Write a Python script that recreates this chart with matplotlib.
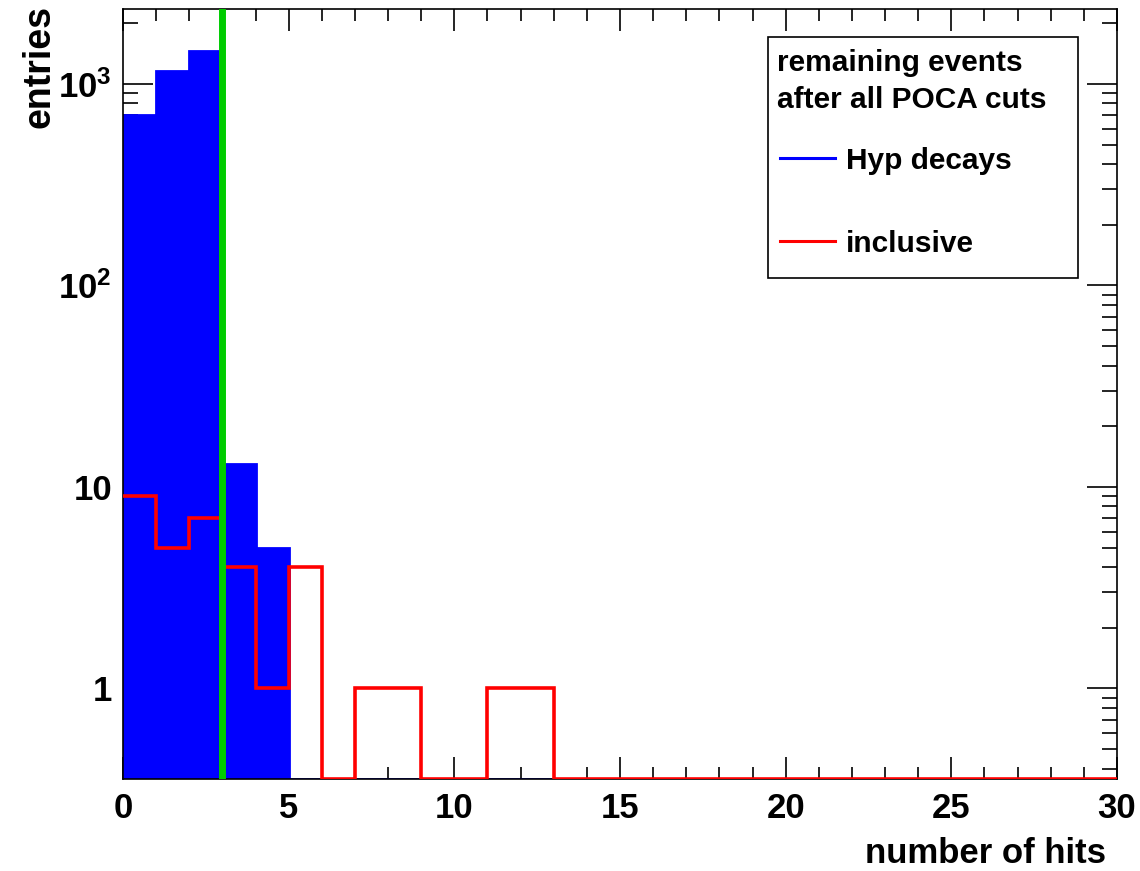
import numpy as np
import matplotlib
matplotlib.use("Agg")
from matplotlib import pyplot as plt
from matplotlib.patches import Rectangle
from matplotlib.lines import Line2D
from matplotlib.ticker import FixedLocator, FixedFormatter, MultipleLocator

plt.rcParams['font.family'] = ['Liberation Sans', 'DejaVu Sans']
plt.rcParams['font.weight'] = 'bold'
plt.rcParams['mathtext.fontset'] = 'custom'
plt.rcParams['mathtext.rm'] = 'Liberation Sans:bold'
plt.rcParams['mathtext.default'] = 'rm'

# number of hits histogram, 30 bins of width 1
edges = np.arange(0, 31)
hyp = np.array([703, 1161, 1449, 13, 5] + [0] * 25, dtype=float)
incl = np.array([9, 5, 7, 4, 1, 4, 0, 1, 1, 0, 0, 1, 1] + [0] * 17, dtype=float)
cut_x = 3
ymin, ymax = 0.355, 2354

ytick_vals = [1, 10, 100, 1000]
ytick_labels = ['1', '10', r'$10^{2}$', r'$10^{3}$']

fig = plt.figure(figsize=(11.4, 8.71), dpi=100)
ax = fig.add_axes([0.1079, 0.1056, 0.8719, 0.8841])
ax.set_yscale('log')
ax.set_xlim(0, 30)
ax.set_ylim(ymin, ymax)

# empty bins sit on the bottom of the frame, like ROOT draws them
hyp_d = np.where(hyp > 0, hyp, ymin)
incl_d = np.where(incl > 0, incl, ymin)

ax.stairs(hyp_d, edges, baseline=ymin, fill=True, color='#0000ff', zorder=2)
ax.stairs(hyp_d, edges, baseline=None, color='#0000ff', lw=2, zorder=2)
ax.stairs(incl_d, edges, baseline=None, color='#ff0000', lw=2.6, zorder=3)
ax.axvline(cut_x, color='#00cc00', lw=5, zorder=4)

ax.yaxis.set_major_locator(FixedLocator(ytick_vals))
ax.yaxis.set_major_formatter(FixedFormatter(ytick_labels))
minors = [m * 10.0 ** d for d in range(-1, 4) for m in range(2, 10)]
ax.yaxis.set_minor_locator(FixedLocator(minors))
ax.yaxis.set_minor_formatter(FixedFormatter([''] * len(minors)))
ax.xaxis.set_major_locator(MultipleLocator(5))
ax.xaxis.set_minor_locator(MultipleLocator(1))

ax.tick_params(axis='both', which='both', direction='in', top=True, right=True, width=1.2, colors='black')
ax.tick_params(axis='y', which='major', length=21.5, labelsize=25, pad=8)
ax.tick_params(axis='y', which='minor', length=10.8)
ax.tick_params(axis='x', which='major', length=16, labelsize=25, pad=9)
ax.tick_params(axis='x', which='minor', length=8.6)
for s in ax.spines.values():
    s.set_linewidth(1.2)

fig.text(0.9705, 0.0095, 'number of hits', ha='right', va='baseline', fontsize=25, fontweight='bold')
fig.text(0.019, 0.994, 'entries', ha='left', va='top', rotation=90, fontsize=27, fontweight='bold')

# legend box
lx0, ly0, lx1, ly1 = 768 / 1140, 1 - 278 / 871, 1078 / 1140, 1 - 37 / 871
fig.patches.append(Rectangle((lx0, ly0), lx1 - lx0, ly1 - ly0, transform=fig.transFigure,
                             facecolor='white', edgecolor='black', lw=1.2, zorder=5))
fig.text(777 / 1140, 1 - 63 / 871, 'remaining events', va='center', fontsize=21.5, fontweight='bold', zorder=6)
fig.text(777 / 1140, 1 - 100 / 871, 'after all POCA cuts', va='center', fontsize=21.5, fontweight='bold', zorder=6)
fig.lines.append(Line2D([780 / 1140, 835 / 1140], [1 - 158 / 871] * 2, transform=fig.transFigure,
                        color='#0000ff', lw=2.2, zorder=6))
fig.text(846 / 1140, 1 - 161 / 871, 'Hyp decays', va='center', fontsize=21.5, fontweight='bold', zorder=6)
fig.lines.append(Line2D([780 / 1140, 835 / 1140], [1 - 241 / 871] * 2, transform=fig.transFigure,
                        color='#ff0000', lw=2.2, zorder=6))
fig.text(846 / 1140, 1 - 244 / 871, 'inclusive', va='center', fontsize=21.5, fontweight='bold', zorder=6)

fig.savefig('out.png', dpi=100)
